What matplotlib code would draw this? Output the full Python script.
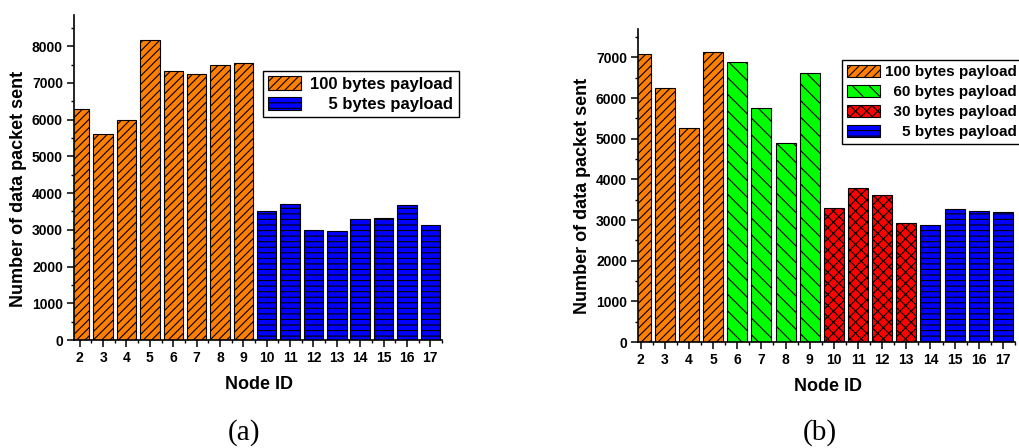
import matplotlib
matplotlib.use("Agg")
import matplotlib.pyplot as plt
from matplotlib.ticker import MultipleLocator

plt.rcParams["font.family"] = ["Liberation Sans", "DejaVu Sans"]
plt.rcParams["font.weight"] = "bold"
plt.rcParams["hatch.linewidth"] = 0.8
plt.rcParams["hatch.color"] = "black"

# packets sent per node
node_ids = list(range(2, 18))

# (a) two payload sizes
a_100 = [6280, 5620, 6000, 8180, 7330, 7250, 7500, 7530]
a_5 = [3520, 3700, 3000, 2960, 3290, 3330, 3680, 3120]

# (b) four payload sizes
b_100 = [7080, 6240, 5270, 7130]
b_60 = [6885, 5750, 4890, 6610]
b_30 = [3290, 3800, 3620, 2930]
b_5 = [2880, 3270, 3225, 3210]

labels = {
    "100": "100 bytes payload",
    "60": "  60 bytes payload",
    "30": "  30 bytes payload",
    "5": "    5 bytes payload",
}
styles = {
    "100": dict(color="#FF8000", hatch="////"),
    "60": dict(color="#00FF00", hatch="\\\\"),
    "30": dict(color="#FF0000", hatch="xxx"),
    "5": dict(color="#0000FF", hatch="---"),
}

W, H = 1019, 448
fig = plt.figure(figsize=(W / 100, H / 100), dpi=100)


def px_axes(x0, y_top, x1, y_bot):
    return fig.add_axes([x0 / W, 1 - y_bot / H, (x1 - x0) / W, (y_bot - y_top) / H])


def style_axes(ax, ymax):
    for s in ["top", "right"]:
        ax.spines[s].set_visible(False)
    for s in ["left", "bottom"]:
        ax.spines[s].set_linewidth(1.2)
    ax.set_ylim(0, ymax)
    ax.set_xticks(node_ids)
    ax.xaxis.set_minor_locator(MultipleLocator(0.5))
    ax.yaxis.set_major_locator(MultipleLocator(1000))
    ax.yaxis.set_minor_locator(MultipleLocator(500))
    ax.tick_params(which="major", direction="out", length=5, width=1.1, labelsize=10, pad=3)
    ax.tick_params(which="minor", direction="out", length=2.5, width=1.0)
    for lab in ax.get_xticklabels() + ax.get_yticklabels():
        lab.set_fontweight("bold")
    ax.set_xlabel("Node ID", fontsize=13, fontweight="bold", va="center")
    ax.set_ylabel("Number of data packet sent", fontsize=13, fontweight="bold", va="center")


def draw_bars(ax, ids, vals, key):
    ax.bar(ids, vals, width=0.83, edgecolor="black", linewidth=0.8,
           label=labels[key], **styles[key])


# (a)
ax1 = px_axes(74, 15, 442, 340)
draw_bars(ax1, node_ids[:8], a_100, "100")
draw_bars(ax1, node_ids[8:], a_5, "5")
ax1.set_xlim(1.755, 17.5)
style_axes(ax1, 8850)
ax1.yaxis.set_label_coords(-0.152, 0.465)
ax1.xaxis.set_label_coords(0.503, -0.138)
leg1 = ax1.legend(loc="upper left", bbox_to_anchor=(263 / W, 1 - 71 / H),
                  bbox_transform=fig.transFigure, borderaxespad=0, fancybox=False,
                  edgecolor="black", framealpha=1, handlelength=2.0,
                  handleheight=0.9, handletextpad=0.55, labelspacing=0.3,
                  borderpad=0.3, prop=dict(weight="bold", size=12))
leg1.get_frame().set_linewidth(1.0)

# (b)
ax2 = px_axes(638, 29, 1015, 342)
draw_bars(ax2, node_ids[:4], b_100, "100")
draw_bars(ax2, node_ids[4:8], b_60, "60")
draw_bars(ax2, node_ids[8:12], b_30, "30")
draw_bars(ax2, node_ids[12:], b_5, "5")
ax2.set_xlim(1.89, 17.5)
style_axes(ax2, 7700)
ax2.yaxis.set_label_coords(-0.1485, 0.467)
ax2.xaxis.set_label_coords(0.503, -0.141)
leg2 = ax2.legend(loc="upper left", bbox_to_anchor=(842 / W, 1 - 60 / H),
                  bbox_transform=fig.transFigure, borderaxespad=0, fancybox=False,
                  edgecolor="black", framealpha=1, handlelength=2.2,
                  handleheight=0.85, handletextpad=0.3, labelspacing=0.37,
                  borderpad=0.3, prop=dict(weight="bold", size=11))
leg2.get_frame().set_linewidth(1.0)

fig.text(244 / W, 1 - 433 / H, "(a)", family=["Liberation Serif", "DejaVu Serif"],
         fontweight="normal", fontsize=21, ha="center", va="center")
fig.text(820 / W, 1 - 433 / H, "(b)", family=["Liberation Serif", "DejaVu Serif"],
         fontweight="normal", fontsize=21, ha="center", va="center")

fig.savefig("out.png", dpi=100)
